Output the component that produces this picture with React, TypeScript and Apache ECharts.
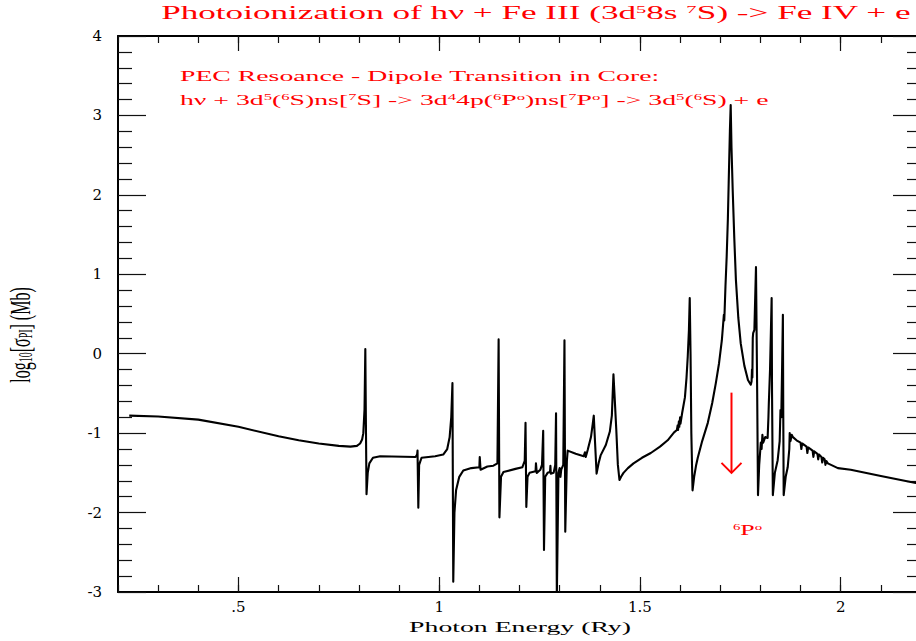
import React, { useEffect, useRef } from 'react';
import * as echarts from 'echarts';

// Photon energy (Ry) and log10 cross section (Mb)
const energy = [
  0.228, 0.300, 0.400, 0.500, 0.600, 0.650, 0.700, 0.750, 0.779, 0.795, 0.803, 0.808, 0.811, 0.814, 0.816, 0.8175, 0.819,
  0.822, 0.826, 0.835, 0.853, 0.941, 0.945, 0.946, 0.948, 0.950, 0.956, 0.990, 1.010, 1.020, 1.026, 1.030,
  1.033, 1.035, 1.038, 1.042, 1.050, 1.060, 1.080, 1.100, 1.101, 1.103, 1.120, 1.135, 1.145, 1.148, 1.150,
  1.154, 1.160, 1.190, 1.207, 1.213, 1.215, 1.217, 1.220, 1.225, 1.240, 1.241, 1.243, 1.252, 1.256, 1.259,
  1.261, 1.264, 1.270, 1.276, 1.277, 1.278, 1.285, 1.289, 1.291, 1.293, 1.297, 1.300, 1.302, 1.304, 1.309,
  1.312, 1.314, 1.318, 1.320, 1.340, 1.360, 1.363, 1.365, 1.370, 1.378, 1.382, 1.385, 1.388, 1.392, 1.397,
  1.402, 1.415, 1.425, 1.430, 1.434, 1.437, 1.441, 1.445, 1.449, 1.453, 1.459, 1.470, 1.484, 1.505, 1.527,
  1.550, 1.569, 1.585, 1.592, 1.594, 1.595, 1.597, 1.598, 1.600, 1.601, 1.605, 1.612, 1.616, 1.619, 1.622,
  1.624, 1.626, 1.628, 1.631, 1.635, 1.640, 1.644, 1.655, 1.669, 1.680, 1.689, 1.697, 1.704, 1.709, 1.710,
  1.711, 1.713, 1.716, 1.719, 1.721, 1.724, 1.726, 1.728, 1.731, 1.735, 1.739, 1.745, 1.751, 1.760, 1.769,
  1.776, 1.778, 1.779, 1.780, 1.781, 1.782, 1.785, 1.789, 1.792, 1.794, 1.797, 1.801, 1.803, 1.805, 1.807,
  1.812, 1.818, 1.820, 1.821, 1.824, 1.828, 1.829, 1.831, 1.836, 1.843, 1.848, 1.850, 1.852, 1.854, 1.856,
  1.857, 1.858, 1.863, 1.868, 1.872, 1.873, 1.875, 1.878, 1.881, 1.890, 1.900, 1.902, 1.904, 1.915, 1.917,
  1.919, 1.930, 1.932, 1.934, 1.942, 1.944, 1.946, 1.952, 1.954, 1.956, 1.960, 1.962, 1.964, 1.968, 1.993,
  2.025, 2.100, 2.190,
];
const logSigma = [
  -0.78, -0.79, -0.83, -0.92, -1.04, -1.09, -1.13, -1.16, -1.17, -1.16, -1.13, -1.08, -1.00, -0.70, 0.06, -0.90, -1.77,
  -1.50, -1.38, -1.31, -1.29, -1.30, -1.27, -1.22, -1.94, -1.40, -1.31, -1.29, -1.27, -1.20, -1.05, -0.80,
  -0.37, -2.87, -2.00, -1.72, -1.55, -1.47, -1.44, -1.43, -1.30, -1.46, -1.42, -1.41, -1.38, 0.18, -2.06,
  -1.55, -1.49, -1.45, -1.43, -1.35, -0.87, -1.93, -1.55, -1.50, -1.48, -1.38, -1.50, -1.46, -1.40, -0.97,
  -2.47, -1.55, -1.50, -1.49, -1.41, -1.51, -1.50, -1.40, -0.75, -3.05, -1.50, -1.44, -1.55, -1.46, -1.40,
  0.17, -2.24, -1.35, -1.22, -1.26, -1.29, -1.24, -1.30, -1.21, -1.05, -0.90, -0.78, -1.10, -1.51, -1.38,
  -1.28, -1.15, -0.98, -0.78, -0.26, -0.55, -0.95, -1.40, -1.59, -1.55, -1.50, -1.44, -1.38, -1.31, -1.25,
  -1.17, -1.09, -0.99, -0.96, -0.90, -0.96, -0.85, -0.92, -0.80, -0.88, -0.75, -0.55, -0.30, -0.04, 0.30,
  0.70, 0.00, -1.00, -1.72, -1.55, -1.40, -1.31, -1.10, -0.87, -0.62, -0.37, -0.12, 0.17, 0.49, 0.42,
  0.55, 0.85, 1.22, 1.70, 2.15, 2.80, 3.13, 2.60, 2.06, 1.45, 0.93, 0.45, 0.13, -0.15, -0.33,
  -0.39, -0.35, -0.20, -0.30, 0.20, 0.26, 0.30, 1.09, -0.50, -1.78, -1.40, -1.12, -1.20, -1.02, -1.12,
  -1.05, -1.06, -0.80, -0.62, -0.20, 0.70, -0.50, -1.78, -1.50, -1.34, -1.10, -0.71, -0.80, -0.20, 0.49,
  -0.80, -1.78, -1.55, -1.43, -1.20, -1.00, -1.10, -1.02, -1.05, -1.09, -1.12, -1.20, -1.13, -1.17, -1.25,
  -1.18, -1.22, -1.30, -1.23, -1.26, -1.33, -1.27, -1.30, -1.37, -1.31, -1.33, -1.40, -1.35, -1.38, -1.44,
  -1.46, -1.54, -1.63,
];

const xMajorTicks = [0.5, 1, 1.5, 2];
const xMajorLabels = ['.5', '1', '1.5', '2'];
const xMinorTicks = [0.2, 0.3, 0.4, 0.5, 0.6, 0.7, 0.8, 0.9, 1.0, 1.1, 1.2, 1.3, 1.4, 1.5, 1.6, 1.7, 1.8, 1.9, 2.0, 2.1, 2.2];
const yTicks = [-3, -2, -1, 0, 1, 2, 3, 4];
const yTickLabels = ['-3', '-2', '-1', '0', '1', '2', '3', '4'];

const titleText = 'Photoionization of hν + Fe III (3d{sup|5}8s {sup|7}S) -> Fe IV + e';
const noteLine1 = 'PEC Resoance - Dipole Transition in Core:';
const noteLine2 =
  'hν + 3d{sup|5}({sup|6}S)ns[{sup|7}S] -> 3d{sup|4}4p({sup|6}P{sup|o})ns[{sup|7}P{sup|o}] -> 3d{sup|5}({sup|6}S) + e';
const xName = 'Photon Energy (Ry)';
const yName = 'log{sub|10}[σ{sub|PI}] (Mb)';
const arrowLabel = '{sup|6}P{sup|o}';

// annotation anchor (data units)
const arrowEnergy = 1.728;
const arrowTop = -0.49;
const arrowBottom = -1.5;
const labelEnergy = 1.768;
const labelLog = -2.22;

const RED = '#ff0000';
const SERIF = 'Liberation Serif';
const STRETCH = 1.85;

function richStyles(size: number) {
  return {
    sup: { fontSize: Math.round(size * 0.6), lineHeight: Math.round(size * 0.6), verticalAlign: 'top', fill: RED, fontFamily: SERIF },
    sub: { fontSize: Math.round(size * 0.62), lineHeight: Math.round(size * 0.62), verticalAlign: 'bottom', fill: '#000', fontFamily: SERIF },
  };
}

export default function App() {
  const ref = useRef<HTMLDivElement>(null);
  useEffect(() => {
    document.body.style.overflow = 'hidden';
    document.documentElement.style.overflow = 'hidden';
    const chart = echarts.init(ref.current!, null, { renderer: 'svg' });
    const data = energy.map((e, i) => [e, logSigma[i]]);
    const tickStyle = { color: '#111', width: 1.2 };
    const xAxisBase = {
      type: 'value',
      min: 0.2,
      max: 2.2,
      splitLine: { show: false },
      axisLabel: { show: false },
    };
    const option: any = {
      animation: false,
      backgroundColor: '#ffffff',
      grid: { left: 118, right: 9, top: 36, bottom: 49, containLabel: false, outerBoundsMode: 'none' },
      xAxis: [
        {
          ...xAxisBase,
          position: 'bottom',
          axisLine: { show: true, onZero: false, lineStyle: { color: '#000', width: 2 } },
          axisTick: { show: true, inside: true, length: 15, customValues: xMajorTicks, lineStyle: tickStyle },
          axisLabel: {
            show: true,
            customValues: xMajorTicks,
            formatter: (v: number) => {
              const i = xMajorTicks.findIndex((t) => Math.abs(t - v) < 1e-6);
              return i >= 0 ? xMajorLabels[i] : '';
            },
            margin: 7,
            fontFamily: 'DejaVu Serif',
            fontSize: 15,
            color: '#000',
          },
        },
        {
          ...xAxisBase,
          position: 'bottom',
          axisLine: { show: false, onZero: false },
          axisTick: { show: true, inside: true, length: 7, customValues: xMinorTicks, lineStyle: tickStyle },
        },
        {
          ...xAxisBase,
          position: 'top',
          axisLine: { show: true, onZero: false, lineStyle: { color: '#000', width: 2 } },
          axisTick: { show: true, inside: true, length: 15, customValues: xMajorTicks, lineStyle: tickStyle },
        },
        {
          ...xAxisBase,
          position: 'top',
          axisLine: { show: false, onZero: false },
          axisTick: { show: true, inside: true, length: 7, customValues: xMinorTicks, lineStyle: tickStyle },
        },
      ],
      yAxis: [
        {
          type: 'value',
          position: 'left',
          min: -3,
          max: 4,
          interval: 1,
          axisLine: { show: true, onZero: false, lineStyle: { color: '#000', width: 2 } },
          axisTick: { show: true, inside: true, length: 28, lineStyle: tickStyle },
          minorTick: { show: true, splitNumber: 5, length: 14, lineStyle: tickStyle },
          axisLabel: {
            show: true,
            showMinLabel: true,
            showMaxLabel: true,
            margin: 16,
            fontFamily: 'DejaVu Serif',
            fontSize: 15,
            color: '#000',
            formatter: (v: number) => {
              const i = yTicks.indexOf(Math.round(v));
              return i >= 0 ? yTickLabels[i] : '';
            },
          },
          splitLine: { show: false },
          minorSplitLine: { show: false },
        },
        {
          type: 'value',
          position: 'right',
          min: -3,
          max: 4,
          interval: 1,
          axisLine: { show: true, onZero: false, lineStyle: { color: '#000', width: 2 } },
          axisTick: { show: true, inside: true, length: 28, lineStyle: tickStyle },
          minorTick: { show: true, splitNumber: 5, length: 14, lineStyle: tickStyle },
          axisLabel: { show: false },
          splitLine: { show: false },
          minorSplitLine: { show: false },
        },
      ],
      series: [
        {
          type: 'line',
          data,
          xAxisIndex: 0,
          yAxisIndex: 0,
          showSymbol: false,
          symbol: 'none',
          clip: true,
          silent: true,
          lineStyle: { color: '#000', width: 2.1, join: 'round' },
        },
      ],
    };
    chart.setOption(option);

    const top = chart.convertToPixel({ seriesIndex: 0 }, [arrowEnergy, arrowTop]) as number[];
    const bot = chart.convertToPixel({ seriesIndex: 0 }, [arrowEnergy, arrowBottom]) as number[];
    const lab = chart.convertToPixel({ seriesIndex: 0 }, [labelEnergy, labelLog]) as number[];

    const txt = (x: number, y: number, text: string, size: number, align: string, fill: string, extra: any = {}) => ({
      type: 'text',
      x,
      y,
      z: 100,
      scaleX: STRETCH,
      ...extra,
      style: {
        text,
        fontFamily: SERIF,
        fontSize: size,
        fill,
        align,
        textAlign: align,
        verticalAlign: 'middle',
        textVerticalAlign: 'middle',
        rich: richStyles(size),
      },
    });

    chart.setOption({
      graphic: [
        txt(536, 13, titleText, 19, 'center', RED),
        txt(180, 76, noteLine1, 15, 'left', RED),
        txt(180, 100, noteLine2, 15, 'left', RED),
        txt(520, 627, xName, 15, 'center', '#000'),
        txt(20, 335, yName, 16, 'center', '#000', { scaleX: 1, scaleY: STRETCH, rotation: Math.PI / 2 }),
        txt(lab[0], lab[1], arrowLabel, 14, 'center', RED),
        {
          type: 'line',
          z: 100,
          shape: { x1: top[0], y1: top[1], x2: bot[0], y2: bot[1] },
          style: { stroke: RED, lineWidth: 2 },
        },
        {
          type: 'polyline',
          z: 100,
          shape: { points: [[bot[0] - 10, bot[1] - 10], [bot[0], bot[1]], [bot[0] + 10, bot[1] - 10]] },
          style: { stroke: RED, lineWidth: 2, fill: 'none' },
        },
      ],
    });
    return () => chart.dispose();
  }, []);
  return <div ref={ref} style={{ position: 'fixed', left: 0, top: 0, width: 930, height: 641 }} />;
}
